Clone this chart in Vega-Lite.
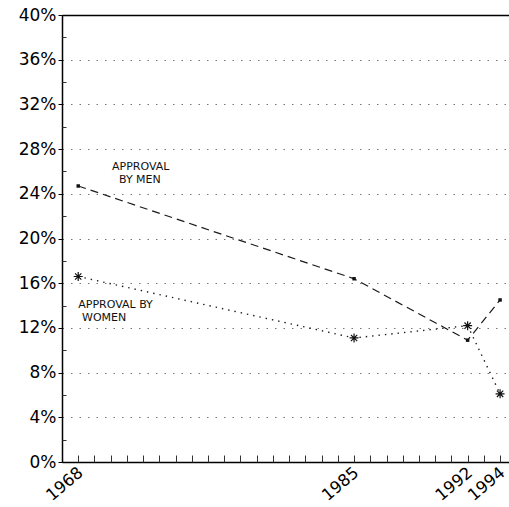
{
  "$schema": "https://vega.github.io/schema/vega-lite/v6.json",
  "width": 447,
  "height": 447,
  "autosize": "none",
  "padding": {"left": 62, "top": 15, "right": 0, "bottom": 45},
  "config": {
    "view": {"stroke": null},
    "font": "DejaVu Sans",
    "axis": {"title": null, "labelColor": "black", "labelFont": "DejaVu Sans"}
  },
  "datasets": {
    "approval": [
      {"year": 1968, "group": "Men", "pct": 24.7},
      {"year": 1985, "group": "Men", "pct": 16.4},
      {"year": 1992, "group": "Men", "pct": 10.9},
      {"year": 1994, "group": "Men", "pct": 14.5},
      {"year": 1968, "group": "Women", "pct": 16.6},
      {"year": 1985, "group": "Women", "pct": 11.1},
      {"year": 1992, "group": "Women", "pct": 12.2},
      {"year": 1994, "group": "Women", "pct": 6.1}
    ],
    "notes": [
      {"year": 1971.85, "pct": 26.4, "text": "APPROVAL"},
      {"year": 1971.8, "pct": 25.2, "text": "BY MEN"},
      {"year": 1970.3, "pct": 14.05, "text": "APPROVAL BY"},
      {"year": 1969.6, "pct": 12.9, "text": "WOMEN"}
    ]
  },
  "layer": [
    {
      "data": {"name": "approval"},
      "transform": [{"filter": "datum.group == 'Men'"}],
      "mark": {"type": "line", "color": "#1a1a1a", "strokeWidth": 1.2, "strokeDash": [8, 5]},
      "encoding": {
        "x": {
          "field": "year", "type": "quantitative",
          "scale": {"domain": [1967, 1994.55], "nice": false, "zero": false},
          "axis": {
            "orient": "bottom",
            "values": [1968, 1985, 1992, 1994], "format": "d",
            "labelAngle": -40, "labelFontSize": 16.5, "labelPadding": 2, "labelOffset": -3,
            "labelOverlap": false, "labelBound": false, "labelFlush": false,
            "ticks": false, "grid": false, "domainColor": "black", "domainWidth": 1.5
          }
        },
        "y": {
          "field": "pct", "type": "quantitative",
          "scale": {"domain": [0, 40], "nice": false},
          "axis": {
            "orient": "left",
            "values": [0, 4, 8, 12, 16, 20, 24, 28, 32, 36, 40],
            "labelExpr": "datum.value + '%'", "labelFontSize": 17, "labelPadding": 2,
            "labelOverlap": false, "labelFlush": false,
            "tickSize": 4, "tickColor": "black", "domainColor": "black", "domainWidth": 1.5,
            "grid": true, "gridDash": [1.5, 7], "gridColor": "#777", "gridWidth": 1
          }
        }
      }
    },
    {
      "data": {"name": "approval"},
      "transform": [{"filter": "datum.group == 'Women'"}],
      "mark": {"type": "line", "color": "#1a1a1a", "strokeWidth": 1.4, "strokeDash": [1.4, 5]},
      "encoding": {
        "x": {
          "field": "year", "type": "quantitative",
          "axis": {
            "orient": "bottom",
            "values": [1968, 1969, 1970, 1971, 1972, 1973, 1974, 1975, 1976, 1977, 1978, 1979, 1980, 1981, 1982, 1983, 1984, 1985, 1986, 1987, 1988, 1989, 1990, 1991, 1992, 1993, 1994],
            "labels": false, "domain": false, "grid": false,
            "tickSize": -7, "tickColor": "#333", "tickWidth": 1
          }
        },
        "y": {
          "field": "pct", "type": "quantitative",
          "axis": {
            "orient": "left",
            "values": [2, 6, 10, 14, 18, 22, 26, 30, 34, 38],
            "labels": false, "domain": false, "grid": false,
            "tickSize": -4, "tickColor": "#333", "tickWidth": 1
          }
        }
      }
    },
    {
      "data": {"name": "approval"},
      "transform": [{"filter": "datum.group == 'Men'"}],
      "mark": {"type": "point", "shape": "square", "filled": true, "size": 12, "color": "#111", "opacity": 1},
      "encoding": {
        "x": {
          "field": "year", "type": "quantitative",
          "axis": {"orient": "top", "labels": false, "ticks": false, "grid": false, "domainColor": "black", "domainWidth": 1.5}
        },
        "y": {"field": "pct", "type": "quantitative", "axis": null}
      }
    },
    {
      "data": {"name": "approval"},
      "transform": [{"filter": "datum.group == 'Women'"}],
      "mark": {
        "type": "point", "filled": false, "size": 81, "color": "#111", "strokeWidth": 1.2, "opacity": 1,
        "shape": "M-1,0L1,0M0,-1L0,1M-0.7,-0.7L0.7,0.7M-0.7,0.7L0.7,-0.7"
      },
      "encoding": {
        "x": {"field": "year", "type": "quantitative", "axis": null},
        "y": {"field": "pct", "type": "quantitative", "axis": null}
      }
    },
    {
      "data": {"name": "notes"},
      "mark": {"type": "text", "align": "center", "baseline": "middle", "fontSize": 11, "color": "#111"},
      "encoding": {
        "x": {"field": "year", "type": "quantitative", "axis": null},
        "y": {"field": "pct", "type": "quantitative", "axis": null},
        "text": {"field": "text", "type": "nominal"}
      }
    }
  ],
  "resolve": {"axis": {"x": "independent", "y": "independent"}}
}
